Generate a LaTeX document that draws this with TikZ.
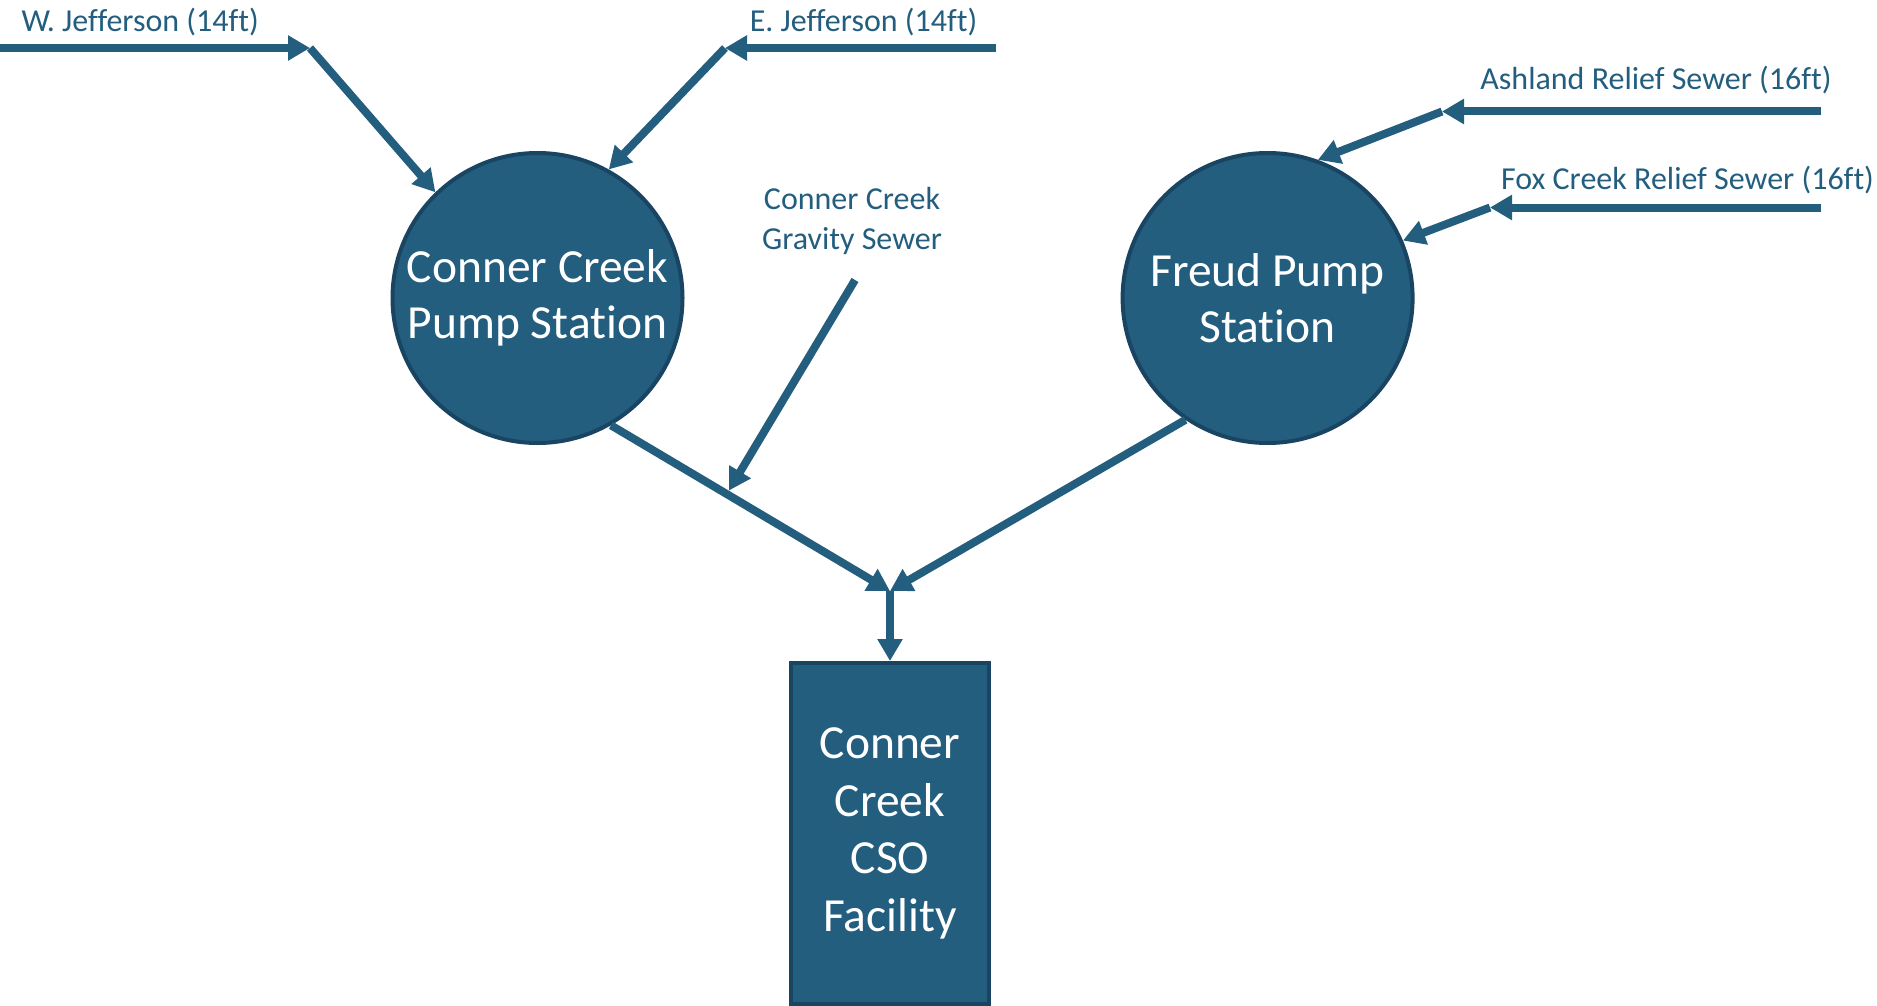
\documentclass[tikz,border=0pt]{standalone}
\usepackage{fontspec}
\setmainfont[Ligatures={NoCommon,NoRare,NoContextual}]{Carlito}
\usetikzlibrary{arrows.meta,calc}
\definecolor{pipeblue}{HTML}{245E7F}
\definecolor{edgeblue}{HTML}{1A4562}
\tikzset{
  pipe/.style={draw=pipeblue,line width=8pt,-{Triangle[length=22pt,width=24pt]}},
  station/.style={circle,fill=pipeblue,draw=edgeblue,line width=4pt,minimum size=290pt,inner sep=0pt,align=center,text=white,font=\fontsize{47.5}{56.5}\selectfont},
  facility/.style={rectangle,fill=pipeblue,draw=edgeblue,line width=4pt,minimum width=198pt,minimum height=341pt,inner sep=0pt,align=center,text=white,font=\fontsize{47.5}{57.5}\selectfont},
  lbl/.style={text=pipeblue,font=\fontsize{32}{39.5}\selectfont,inner sep=0pt}
}
\begin{document}
\begin{tikzpicture}[x=1pt,y=-1pt]
\useasboundingbox (0,0) rectangle (1877,1006);
% nodes
\node[station] (c1) at (537.5,298) {Conner Creek\\Pump Stat\kern0pt ion};
\node[station] (c2) at (1267.6,298) {Freud Pump\\Stat\kern0pt ion};
\node[facility] (cso) at (890,833.5) {Conner\\Creek\\CSO\\Facility};
% labels
\node[lbl,anchor=west] (lw) at (21.5,22) {W. Jefferson (14ft)};
\node[lbl] (le) at (863.5,22) {E. Jefferson (14ft)};
\node[lbl] (la) at (1656,80) {Ashland Relief Sewer (16ft)};
\node[lbl] (lf) at (1687.5,180) {Fox Creek Relief Sewer (16ft)};
\node[lbl,align=center] (lg) at (852,221) {Conner Creek\\Gravity Sewer};
% coordinates
\coordinate (ws) at (0,48);
\coordinate (wb) at (310,48);
\coordinate (es) at (996,48);
\coordinate (eb) at (725,48);
\coordinate (as) at (1821,111.5);
\coordinate (ab) at (1442,111.5);
\coordinate (fs) at (1821,207.5);
\coordinate (fb) at (1490,207.5);
\coordinate (gs) at (855,280);
\coordinate (j) at (890,591);
\coordinate (g) at ($(c1.-60)!0.415!(j)$);
% connectors
\draw[pipe] (ws) -- (wb);
\draw[pipe] (wb) -- (c1.134);
\draw[pipe] (es) -- (eb);
\draw[pipe] (eb) -- (c1.61);
\draw[pipe] (as) -- (ab);
\draw[pipe] (ab) -- (c2.70);
\draw[pipe] (fs) -- (fb);
\draw[pipe] (fb) -- (c2.23);
\draw[pipe] (c1.-60) -- (j);
\draw[pipe] (c2.-124) -- (j);
\draw[pipe,shorten >=4pt] (gs) -- (g);
\draw[pipe] (j) -- (cso.north);
\end{tikzpicture}
\end{document}
